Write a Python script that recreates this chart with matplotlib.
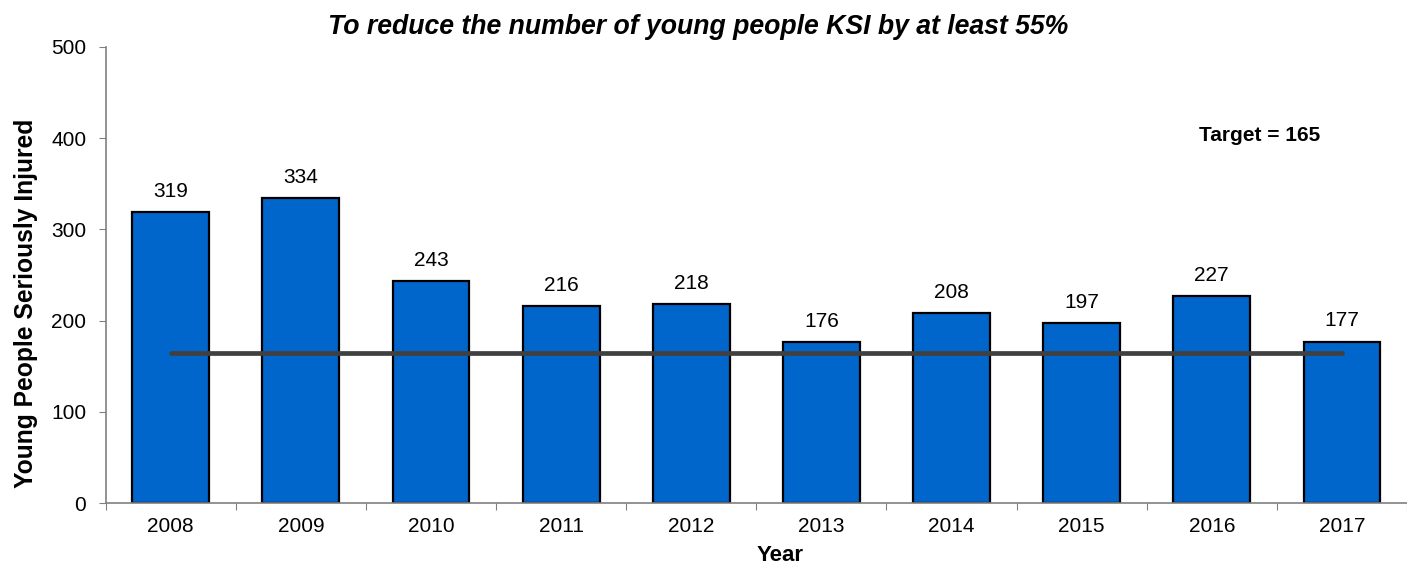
import matplotlib.pyplot as plt
import numpy as np

plt.rcParams['font.family'] = ['Liberation Sans', 'DejaVu Sans']

years = ['2008', '2009', '2010', '2011', '2012', '2013', '2014', '2015', '2016', '2017']
injured = [319, 334, 243, 216, 218, 176, 208, 197, 227, 177]
target = 165

x = np.arange(len(years))

fig = plt.figure(figsize=(14.07, 5.68), dpi=100)
ax = fig.add_axes([0.0751, 0.1144, 0.9249, 0.8029])

ax.bar(x, injured, width=0.59, color='#0066CC', edgecolor='black', linewidth=1.6, zorder=2)
ax.plot([x[0], x[-1]], [target, target], color='#404040', linewidth=3.4,
        solid_capstyle='round', zorder=3)

for xi, v in zip(x, injured):
    ax.annotate(str(v), (xi, v), xytext=(0, 8), textcoords='offset points',
                ha='center', va='bottom', fontsize=15)

ax.set_xlim(-0.5, len(years) - 0.5)
ax.set_ylim(0, 500)
ax.set_yticks(range(0, 501, 100))

# ticks sit between the bars, labels at bar centres
ax.set_xticks(np.arange(-0.5, len(years) + 0.5, 1.0))
ax.set_xticklabels([])
ax.set_xticks(x, minor=True)
ax.set_xticklabels(years, minor=True, fontsize=15)
ax.tick_params(axis='x', which='minor', length=0, pad=10)
ax.tick_params(axis='x', which='major', length=5, direction='out', color='#808080')
ax.tick_params(axis='y', length=5, direction='out', color='#808080', labelsize=15, pad=9)

for side in ['top', 'right']:
    ax.spines[side].set_visible(False)
for side in ['left', 'bottom']:
    ax.spines[side].set_color('#808080')
    ax.spines[side].set_linewidth(1.2)

ax.set_xlabel('Year', fontsize=16, fontweight='bold')
ax.xaxis.set_label_coords(0.518, -0.092)
ax.set_ylabel('Young People Seriously Injured', fontsize=17.7, fontweight='bold')
ax.yaxis.set_label_coords(-0.052, 0.4375)

ax.text(0.8865, 0.805, 'Target = 165', transform=ax.transAxes, ha='center', va='center',
        fontsize=15, fontweight='bold')

fig.text(0.496, 0.953, 'To reduce the number of young people KSI by at least 55%',
         ha='center', va='center', fontsize=19.2, fontweight='bold', style='italic')

fig.savefig('out.png', dpi=100)
